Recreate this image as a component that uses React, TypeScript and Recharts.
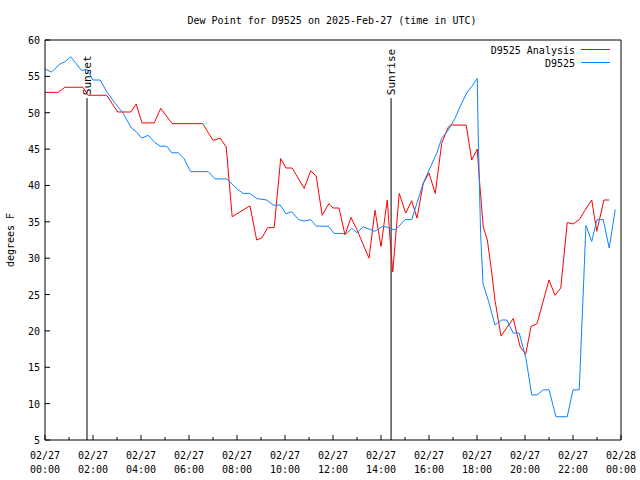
import React from "react";
import {
  LineChart,
  Line,
  XAxis,
  YAxis,
  ReferenceLine,
  Customized,
} from "recharts";

// hours since 2025-02-27 00:00 UTC
const ANALYSIS_HOURS = [
  0, 0.54, 0.83, 1.58, 1.8, 2.57, 3.03, 3.58, 3.8, 4.04, 4.55, 4.82, 5.3, 6.57,
  7.0, 7.3, 7.55, 7.8, 8.54, 8.82, 9.04, 9.28, 9.55, 9.82, 10.04, 10.3, 10.8,
  11.07, 11.3, 11.55, 11.83, 12.0, 12.25, 12.5, 12.75, 13.0, 13.5, 13.75, 14.0,
  14.26, 14.38, 14.49, 14.76, 15.03, 15.28, 15.5, 15.76, 16.0, 16.26, 16.53,
  16.8, 16.9, 17.55, 17.78, 18.01, 18.1, 18.26, 18.43, 18.6, 18.75, 19.0,
  19.51, 19.8, 20.03, 20.25, 20.5, 21.0, 21.25, 21.49, 21.76, 22.0, 22.26,
  22.5, 22.78, 22.99, 23.29, 23.51,
];
const ANALYSIS_VALUES = [
  52.8, 52.8, 53.5, 53.5, 52.4, 52.4, 50.1, 50.1, 51.2, 48.6, 48.6, 50.6, 48.5,
  48.5, 46.2, 46.5, 45.3, 35.7, 37.2, 32.5, 32.8, 34.2, 34.2, 43.7, 42.4, 42.4,
  39.6, 42.0, 41.3, 35.9, 37.5, 36.9, 36.9, 33.2, 35.6, 33.9, 30.0, 36.6, 31.6,
  38.0, 32.5, 28.1, 38.9, 36.2, 37.9, 35.5, 40.3, 41.7, 38.9, 45.8, 48.0, 48.3,
  48.3, 43.5, 45.0, 40.8, 34.3, 32.5, 28.4, 24.2, 19.3, 21.7, 17.8, 16.8, 20.6,
  21.0, 27.0, 24.9, 25.9, 34.9, 34.7, 35.3, 36.6, 38.0, 33.7, 38.0, 38.0,
];

const STATION_HOURS = [
  0, 0.28, 0.62, 0.83, 1.07, 1.53, 1.74, 2.0, 2.3, 2.57, 2.92, 3.26, 3.6, 3.8,
  4.03, 4.3, 4.58, 4.8, 5.07, 5.28, 5.55, 5.79, 6.07, 6.8, 7.08, 7.57, 8.05,
  8.26, 8.54, 8.82, 9.24, 9.51, 9.8, 10.04, 10.28, 10.56, 10.8, 11.07, 11.3,
  11.8, 12.05, 12.57, 12.78, 13.0, 13.26, 13.75, 14.03, 14.24, 14.45, 14.6,
  14.72, 15.0, 15.28, 15.49, 15.76, 16.04, 16.32, 16.53, 16.8, 17.08, 17.29,
  17.57, 17.78, 18.01, 18.05, 18.15, 18.25, 18.47, 18.75, 19.03, 19.24, 19.51,
  19.76, 20.04, 20.28, 20.5, 20.76, 21.0, 21.29, 21.76, 22.0, 22.26, 22.54,
  22.78, 23.0, 23.26, 23.51, 23.76,
];
const STATION_VALUES = [
  56.0, 55.6, 56.7, 57.0, 57.7, 55.8, 56.0, 54.5, 54.5, 52.9, 51.3, 49.9, 47.9,
  47.4, 46.5, 46.9, 45.9, 45.4, 45.4, 44.5, 44.5, 43.7, 41.9, 41.9, 40.9, 40.9,
  39.4, 38.9, 38.9, 38.2, 38.0, 37.3, 37.3, 36.1, 36.4, 35.3, 35.1, 35.3, 34.4,
  34.4, 33.4, 33.4, 34.1, 33.5, 34.3, 33.7, 34.3, 34.3, 34.0, 33.9, 34.3, 35.3,
  35.3, 37.5, 40.3, 42.4, 44.4, 46.5, 47.6, 49.2, 50.8, 52.7, 53.6, 54.7, 47.0,
  33.4, 26.5, 24.2, 20.8, 21.5, 21.5, 19.7, 19.7, 16.2, 11.2, 11.2, 11.9, 11.9,
  8.2, 8.2, 11.9, 11.9, 34.5, 32.3, 35.3, 35.3, 31.4, 36.7,
];

const X_TICKS = Array.from({ length: 25 }, (_, i) => i);
const Y_TICKS = [5, 10, 15, 20, 25, 30, 35, 40, 45, 50, 55, 60];
const SUNSET = 1.75;
const SUNRISE = 14.42;

const FONT = "'DejaVu Sans Mono', monospace";
const RED = "#ff0000";
const BLUE = "#0a84ff";

const analysis = ANALYSIS_HOURS.map((h, i) => ({ h, v: ANALYSIS_VALUES[i] }));
const station = STATION_HOURS.map((h, i) => ({ h, v: STATION_VALUES[i] }));

const pad = (n: number) => String(n).padStart(2, "0");

const BottomTick = ({ x, y, payload }: any) => {
  const hr = payload.value;
  const major = hr % 2 === 0;
  return (
    <g>
      <line x1={x} y1={y} x2={x} y2={y - (major ? 5 : 3)} stroke="#000" />
      {major && (
        <text x={x} y={y + 19} textAnchor="middle" fontFamily={FONT} fontSize={10} fill="#000">
          {hr === 24 ? "02/28" : "02/27"}
        </text>
      )}
      {major && (
        <text x={x} y={y + 33} textAnchor="middle" fontFamily={FONT} fontSize={10} fill="#000">
          {pad(hr % 24)}:00
        </text>
      )}
    </g>
  );
};

const TopTick = ({ x, y, payload }: any) => {
  const major = payload.value % 2 === 0;
  return <line x1={x} y1={y} x2={x} y2={y + (major ? 5 : 3)} stroke="#000" />;
};

const LeftTick = ({ x, y, payload }: any) => (
  <g>
    <line x1={x} y1={y} x2={x + 5} y2={y} stroke="#000" />
    <text x={x - 5} y={y + 4} textAnchor="end" fontFamily={FONT} fontSize={10} fill="#000">
      {payload.value}
    </text>
  </g>
);

const RightTick = ({ x, y }: any) => <line x1={x} y1={y} x2={x - 5} y2={y} stroke="#000" />;

const SunLabel = ({ viewBox, text }: any) => {
  const x = viewBox.x + 4;
  const y = viewBox.y - 3;
  return (
    <text
      x={x}
      y={y}
      transform={`rotate(-90 ${x} ${y})`}
      fontFamily={FONT}
      fontSize={11}
      fill="#000"
    >
      {text}
    </text>
  );
};

const Decorations = () => (
  <g fontFamily={FONT} fontSize={10} fill="#000">
    <text x={332} y={24} textAnchor="middle">
      Dew Point for D9525 on 2025-Feb-27 (time in UTC)
    </text>
    <text x={14} y={240} textAnchor="middle" transform="rotate(-90 14 240)">
      degrees F
    </text>
    <text x={575} y={54} textAnchor="end">D9525 Analysis</text>
    <line x1={581} y1={49.5} x2={610} y2={49.5} stroke={RED} />
    <text x={575} y={67} textAnchor="end">D9525</text>
    <line x1={581} y1={62.5} x2={610} y2={62.5} stroke={BLUE} />
  </g>
);

export default function App() {
  return (
    <div style={{ position: "absolute", left: 0, top: 0, background: "#fff" }}>
      <LineChart width={640} height={480} margin={{ top: 10, right: 0, bottom: 0, left: 0 }}>
        <XAxis
          xAxisId="b"
          dataKey="h"
          type="number"
          domain={[0, 24]}
          ticks={X_TICKS}
          interval={0}
          height={40}
          tickSize={0}
          tickMargin={0}
          tickLine={false}
          axisLine={{ stroke: "#000" }}
          tick={<BottomTick />}
          allowDuplicatedCategory={false}
        />
        <XAxis
          xAxisId="t"
          orientation="top"
          dataKey="h"
          type="number"
          domain={[0, 24]}
          ticks={X_TICKS}
          interval={0}
          height={30}
          tickSize={0}
          tickMargin={0}
          tickLine={false}
          axisLine={{ stroke: "#000" }}
          tick={<TopTick />}
        />
        <YAxis
          yAxisId="l"
          type="number"
          domain={[5, 60]}
          ticks={Y_TICKS}
          interval={0}
          width={45}
          tickSize={0}
          tickMargin={0}
          tickLine={false}
          axisLine={{ stroke: "#000" }}
          tick={<LeftTick />}
        />
        <YAxis
          yAxisId="r"
          orientation="right"
          type="number"
          domain={[5, 60]}
          ticks={Y_TICKS}
          interval={0}
          width={19}
          tickSize={0}
          tickMargin={0}
          tickLine={false}
          axisLine={{ stroke: "#000" }}
          tick={<RightTick />}
        />
        <ReferenceLine
          xAxisId="b"
          yAxisId="l"
          segment={[{ x: SUNSET, y: 5 }, { x: SUNSET, y: 52 }]}
          stroke="#000"
          label={<SunLabel text="Sunset" />}
        />
        <ReferenceLine
          xAxisId="b"
          yAxisId="l"
          segment={[{ x: SUNRISE, y: 5 }, { x: SUNRISE, y: 52 }]}
          stroke="#000"
          label={<SunLabel text="Sunrise" />}
        />
        <Line
          xAxisId="b"
          yAxisId="l"
          data={analysis}
          dataKey="v"
          type="linear"
          stroke={RED}
          strokeWidth={1}
          dot={false}
          isAnimationActive={false}
        />
        <Line
          xAxisId="b"
          yAxisId="l"
          data={station}
          dataKey="v"
          type="linear"
          stroke={BLUE}
          strokeWidth={1}
          dot={false}
          isAnimationActive={false}
        />
        <Customized component={Decorations} />
      </LineChart>
    </div>
  );
}
